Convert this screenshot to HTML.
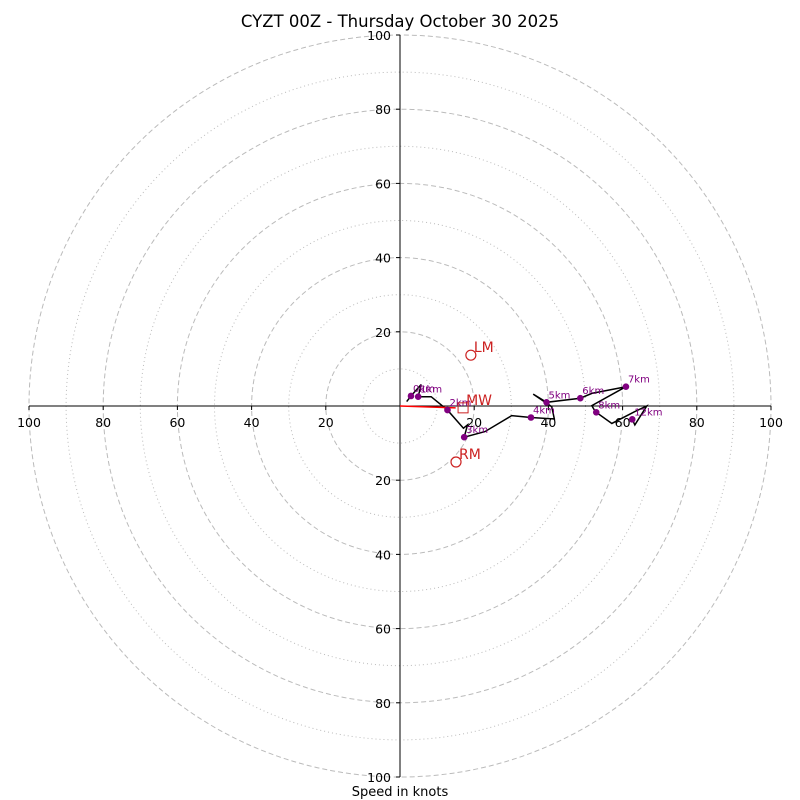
<!DOCTYPE html>
<html><head><meta charset="utf-8"><style>
body{margin:0;background:#fff}
svg{display:block;font-family:"DejaVu Sans","Liberation Sans",sans-serif}
</style></head><body>
<svg id="chart" width="800" height="800" viewBox="0 0 800 800">
<text x="400" y="27" text-anchor="middle" font-size="16.5">CYZT 00Z - Thursday October 30 2025</text>
<g id="rings"></g>
<g id="axes"></g>
<g id="trace"></g>
<text x="400" y="796" text-anchor="middle" font-size="13">Speed in knots</text>
</svg>
<script>
const uWind=[1.8,2.96,5.7,4.9,8.4,12.8,17.1,18.2,17.3,22.9,30.1,35.3,41.6,40.9,35.9,39.5,48.6,51.7,60.9,51.7,52.4,52.9,57.1,63.3,66.5,63.3,62.6];
const vWind=[1.2,2.7,5.8,2.5,2.5,-1.1,-6.0,-5.1,-8.4,-6.9,-2.6,-3.1,-3.5,-0.2,3.2,1.0,2.1,3.4,5.2,0.1,-1.1,-1.7,-4.7,-1.5,0,-5.1,-3.6];
const kmLabels=["0km","1km","2km","3km","4km","5km","6km","7km","8km","12km"];
const kmU=[2.96,4.9,12.8,17.3,35.3,39.5,48.6,60.9,52.9,62.6];
const kmV=[2.7,2.5,-1.1,-8.4,-3.1,1.0,2.1,5.2,-1.7,-3.6];
const stormNames=["LM","RM","MW"];
const stormU=[19.1,15.1,17.0];
const stormV=[13.7,-15.1,-0.5];
const tickVals=[20,40,60,80,100];
const ringVals=[10,20,30,40,50,60,70,80,90,100];

const NS="http://www.w3.org/2000/svg";
const cx=400,cy=406,k=3.71;
const X=u=>cx+u*k, Y=v=>cy-v*k;
function mk(tag,attrs,parent){const e=document.createElementNS(NS,tag);for(const a in attrs)e.setAttribute(a,attrs[a]);parent.appendChild(e);return e;}
const rings=document.getElementById('rings'),axes=document.getElementById('axes'),trace=document.getElementById('trace');
ringVals.forEach(r=>{
  const c=mk('circle',{cx:cx,cy:cy,r:r*k,fill:'none',stroke:'#bbb','stroke-width':1,'stroke-dasharray':r%20===0?'5,3':'1,3'},rings);
  
  
});
mk('line',{x1:X(-100),y1:cy,x2:X(100),y2:cy,stroke:'#000','stroke-width':1},axes);
mk('line',{x1:cx,y1:Y(100),x2:cx,y2:Y(-100),stroke:'#000','stroke-width':1},axes);
tickVals.forEach(t=>{
  [-1,1].forEach(s=>{
    mk('line',{x1:X(s*t),y1:cy,x2:X(s*t),y2:cy+4,stroke:'#000'},axes);
    const tx=mk('text',{x:X(s*t),y:cy+21,'text-anchor':'middle','font-size':12.5},axes);tx.textContent=t;
    
    
    mk('line',{x1:cx-4,y1:Y(s*t),x2:cx,y2:Y(s*t),stroke:'#000'},axes);
    const ty=mk('text',{x:cx-9,y:Y(s*t)+5,'text-anchor':'end','font-size':12.5},axes);ty.textContent=t;
    
    
  });
});
const pts=uWind.map((u,i)=>X(u)+','+Y(vWind[i])).join(' ');
const pl=mk('polyline',{points:pts,fill:'none',stroke:'#000','stroke-width':1.5},trace);


const arr=mk('line',{x1:cx,y1:cy,x2:X(stormU[2]-2),y2:Y(stormV[2]),stroke:'red','stroke-width':1.5},trace);


kmLabels.forEach((l,i)=>{
  const d=mk('circle',{cx:X(kmU[i]),cy:Y(kmV[i]),r:3.3,fill:'purple'},trace);
  
  
  const t=mk('text',{x:X(kmU[i])+2,y:Y(kmV[i])-4,'font-size':10,fill:'purple'},trace);t.textContent=l;
  
  
});
stormNames.forEach((n,i)=>{
  const x=X(stormU[i]),y=Y(stormV[i]);
  let m;
  if(n==='MW')m=mk('rect',{x:x-5,y:y-5,width:10,height:10,fill:'none',stroke:'#c22','stroke-width':1},trace);
  else m=mk('circle',{cx:x,cy:y,r:5,fill:'none',stroke:'#c22','stroke-width':1.2},trace);
  
  
  const t=mk('text',{x:x+3,y:y-3,'font-size':14,fill:'#c22'},trace);t.textContent=n;
  
  
});
</script>
</body></html>
